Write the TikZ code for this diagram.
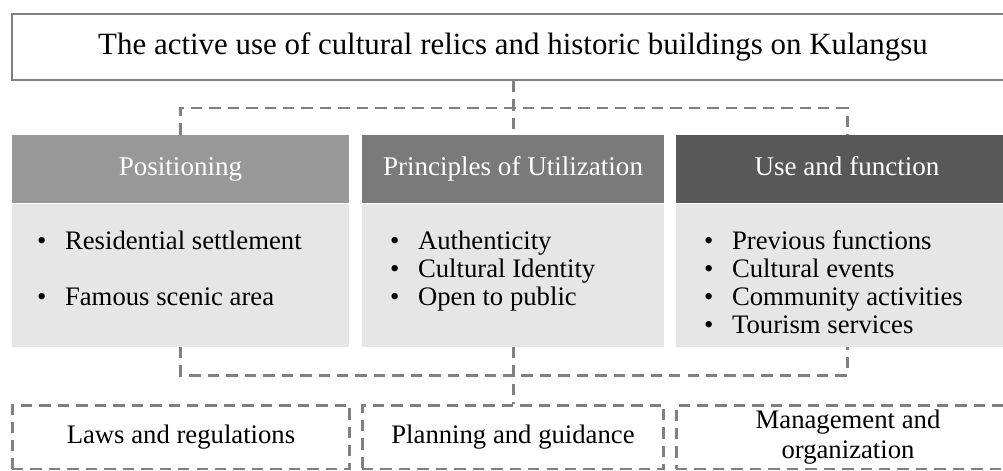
\documentclass[tikz,border=0pt]{standalone}
\usepackage{fontspec}
\setmainfont{Liberation Serif}
\usetikzlibrary{positioning}
\definecolor{mygrayA}{RGB}{152,152,152}
\definecolor{mygrayB}{RGB}{122,122,122}
\definecolor{mygrayC}{RGB}{88,88,88}
\definecolor{mylight}{RGB}{230,230,230}
\definecolor{mydash}{RGB}{128,128,128}
\newcommand{\bul}{\makebox[1.05em][l]{\textbullet}}

\begin{document}
\begin{tikzpicture}[x=0.02cm, y=-0.02cm,
	head/.style={minimum height=1.36cm, inner sep=0pt, text=white, text height=0.95em, text depth=0.22em, font=\fontsize{15.4}{18}\selectfont},
	body/.style={fill=mylight, minimum height=2.86cm, inner sep=0pt},
	items/.style={anchor=north west, align=left, inner sep=0pt, font=\fontsize{15.2}{16}\selectfont},
	conn/.style={draw=mydash, line width=1.7pt, dash pattern=on 6.5pt off 4pt},
	lowbox/.style={conn, minimum height=1.28cm, inner sep=0pt, align=center, font=\fontsize{15.2}{17}\selectfont}]
	\useasboundingbox (0,0) rectangle (1003,470);
	\clip (0,0) rectangle (1003,470);

	\node[draw=mydash, line width=0.9pt, minimum width=20.04cm, minimum height=1.32cm, font=\fontsize{17.6}{20}\selectfont] (title) at (513,47) {The active use of cultural relics and historic buildings on Kulangsu};

	\node[head, fill=mygrayA, minimum width=6.74cm] (head1) at (180.5,169) {Positioning};
	\node[head, fill=mygrayB, minimum width=6.04cm] (head2) at (513,169) {Principles of Utilization};
	\node[head, fill=mygrayC, minimum width=6.84cm] (head3) at (847,169) {Use and function};

	\node[body, minimum width=6.74cm, below=0pt of head1] (body1) {};
	\node[body, minimum width=6.04cm, below=0pt of head2] (body2) {};
	\node[body, minimum width=6.84cm, below=0pt of head3] (body3) {};

	\node[items, xshift=0.5cm, yshift=-0.54cm] (list1) at (body1.north west) {\bul Residential settlement\\[16pt]\bul Famous scenic area};
	\node[items, xshift=0.56cm, yshift=-0.54cm] (list2) at (body2.north west) {\bul Authenticity\\\bul Cultural Identity\\\bul Open to public};
	\node[items, xshift=0.56cm, yshift=-0.54cm] (list3) at (body3.north west) {\bul Previous functions\\\bul Cultural events\\\bul Community activities\\\bul Tourism services};

	\node[lowbox, minimum width=6.76cm] (low1) at (181,437) {Laws and regulations};
	\node[lowbox, minimum width=6.04cm] (low2) at (513,437) {Planning and guidance};
	\node[lowbox, minimum width=6.88cm] (low3) at (848,437) {Management and\\organization};

	% links
	\coordinate (tj) at (513,108);
	\coordinate (bj) at (513,375);
	\draw[conn] (title.south) -- (head2.north);
	\draw[conn] (head1.north) -- (head1.north |- tj) -- (head3.north |- tj) -- (head3.north);
	\draw[conn] (body2.south) -- (low2.north);
	\draw[conn] (body1.south) -- (body1.south |- bj) -- (body3.south |- bj) -- (body3.south);
\end{tikzpicture}
\end{document}
